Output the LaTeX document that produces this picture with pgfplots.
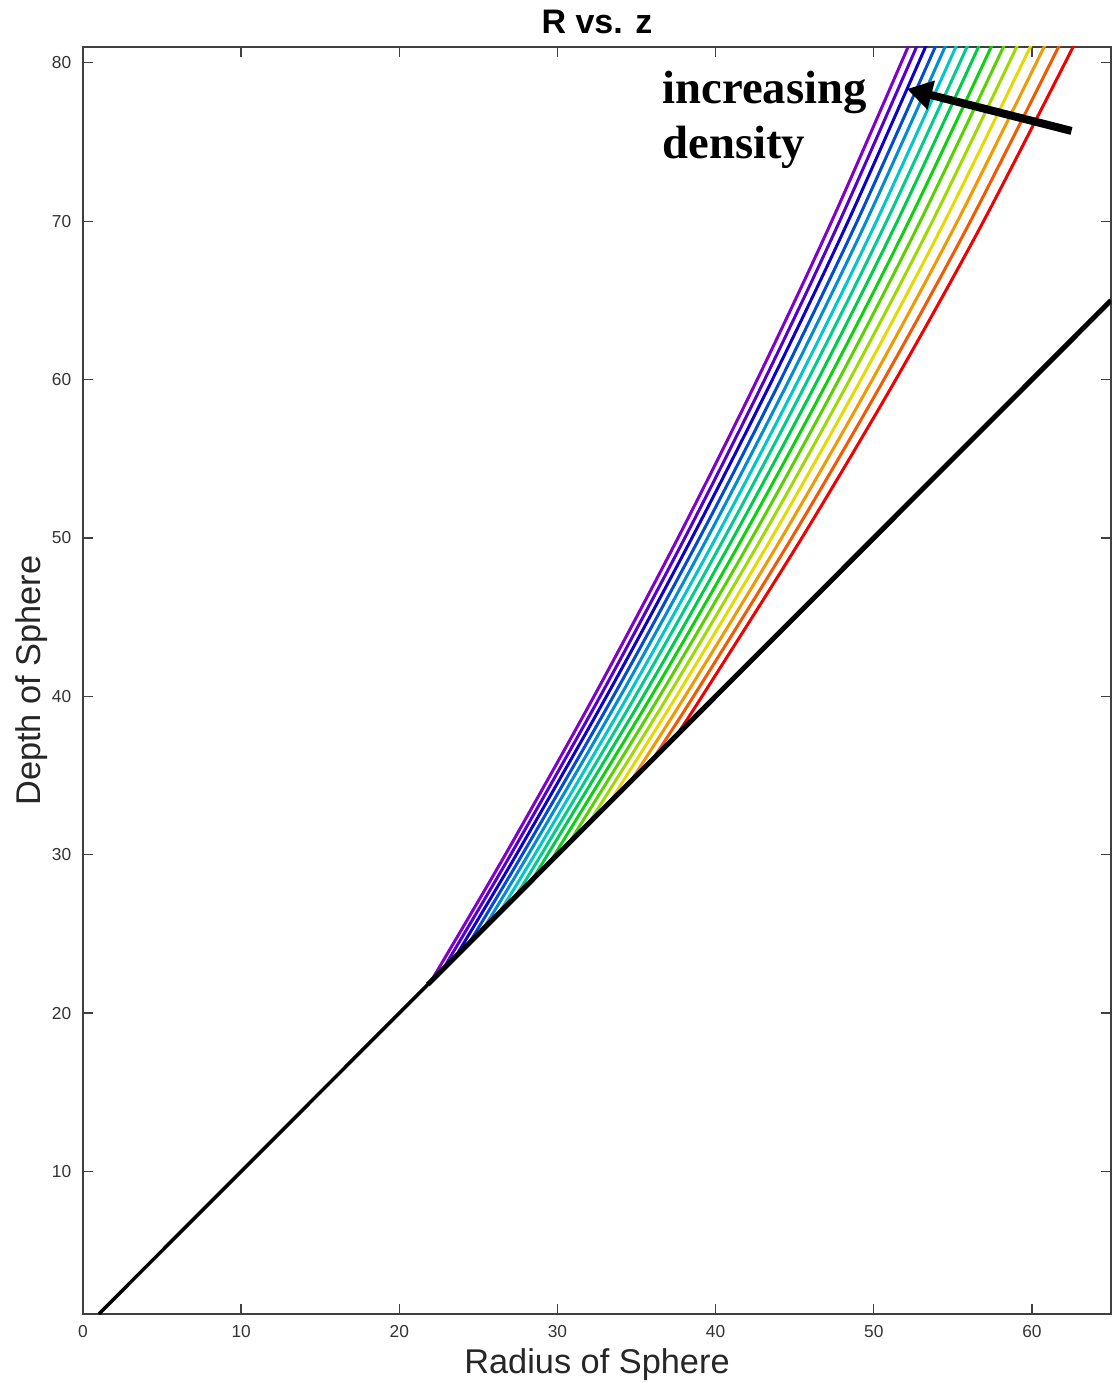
\documentclass[border=0pt]{standalone}
\usepackage{pgfplots}
\pgfplotsset{compat=1.18}
\usetikzlibrary{arrows.meta}
\usepackage{fontspec}
\setmainfont{Liberation Sans}
\newfontfamily\annfont{Liberation Serif}
\definecolor{c0}{rgb}{0.50,0.00,0.80}
\definecolor{c1}{rgb}{0.33,0.00,0.82}
\definecolor{c2}{rgb}{0.05,0.00,0.80}
\definecolor{c3}{rgb}{0.00,0.30,0.85}
\definecolor{c4}{rgb}{0.00,0.55,0.85}
\definecolor{c5}{rgb}{0.00,0.78,0.80}
\definecolor{c6}{rgb}{0.00,0.80,0.55}
\definecolor{c7}{rgb}{0.00,0.80,0.30}
\definecolor{c8}{rgb}{0.05,0.82,0.05}
\definecolor{c9}{rgb}{0.35,0.82,0.00}
\definecolor{c10}{rgb}{0.62,0.85,0.00}
\definecolor{c11}{rgb}{0.90,0.85,0.00}
\definecolor{c12}{rgb}{0.95,0.60,0.00}
\definecolor{c13}{rgb}{0.95,0.35,0.00}
\definecolor{c14}{rgb}{0.95,0.00,0.00}
\begin{document}
\begin{tikzpicture}
\begin{axis}[
  scale only axis, width=308.4pt, height=380.1pt,
  xmin=0, xmax=65, ymin=1, ymax=81,
  xtick={0,10,...,60}, ytick={10,20,...,80},
  tick align=inside, major tick length=3pt,
  axis line style={draw=black!75, line width=0.4pt},
  every tick/.style={black!75, line width=0.4pt},
  ticklabel style={font=\fontsize{5.2}{6}\selectfont, text=black!80},
  /pgf/number format/assume math mode=true,
  xlabel={Radius of Sphere}, ylabel={Depth of Sphere},
  every axis x label/.style={at={(axis description cs:0.5,0)}, yshift=-15.3pt, anchor=center, inner sep=0pt, font=\fontsize{10.3}{12}\selectfont, text=black!85},
  every axis y label/.style={at={(axis description cs:0,0.5)}, xshift=-15.3pt, anchor=center, rotate=90, inner sep=0pt, font=\fontsize{10.3}{12}\selectfont, text=black!85},
  title={R vs. z},
  every axis title/.style={font=\bfseries\fontsize{10.2}{12}\selectfont, at={(axis description cs:0.5,1)}, yshift=7.5pt, anchor=center, inner sep=0pt},
  clip=true, clip bounding box=upper bound,
  every axis plot/.append style={line width=0.9pt, smooth, tension=0.5},
]
\addplot[c0] coordinates {(22.00,22) (26.70,30) (32.31,40) (37.62,50) (42.63,60) (47.34,70) (52.60,82)};
\addplot[c1] coordinates {(22.75,22.75) (27.04,30) (32.70,40) (38.05,50) (43.10,60) (47.84,70) (53.14,82)};
\addplot[c2] coordinates {(23.55,23.55) (27.40,30) (33.10,40) (38.50,50) (43.59,60) (48.38,70) (53.71,82)};
\addplot[c3] coordinates {(24.41,24.41) (27.77,30) (33.53,40) (38.98,50) (44.12,60) (48.95,70) (54.33,82)};
\addplot[c4] coordinates {(25.32,25.32) (28.15,30) (33.97,40) (39.48,50) (44.66,60) (49.53,70) (54.95,82)};
\addplot[c5] coordinates {(26.29,26.29) (28.56,30) (34.44,40) (40.01,50) (45.25,60) (50.17,70) (55.64,82)};
\addplot[c6] coordinates {(27.31,27.31) (28.97,30) (34.92,40) (40.55,50) (45.84,60) (50.81,70) (56.35,82)};
\addplot[c7] coordinates {(28.39,28.39) (35.42,40) (41.11,50) (46.47,60) (51.49,70) (57.08,82)};
\addplot[c8] coordinates {(29.53,29.53) (35.93,40) (41.70,50) (47.13,60) (52.22,70) (57.89,82)};
\addplot[c9] coordinates {(30.72,30.72) (36.45,40) (42.30,50) (47.79,60) (52.94,70) (58.67,82)};
\addplot[c10] coordinates {(31.96,31.96) (36.98,40) (42.91,50) (48.48,60) (53.71,70) (59.51,82)};
\addplot[c11] coordinates {(33.27,33.27) (37.52,40) (43.54,50) (49.19,60) (54.49,70) (60.38,82)};
\addplot[c12] coordinates {(34.62,34.62) (38.06,40) (44.17,50) (49.91,60) (55.29,70) (61.26,82)};
\addplot[c13] coordinates {(36.03,36.03) (38.60,40) (44.81,50) (50.64,60) (56.11,70) (62.18,82)};
\addplot[c14] coordinates {(37.50,37.50) (39.14,40) (45.45,50) (51.39,60) (56.94,70) (63.11,82)};
\addplot[black, line width=1.05pt, sharp plot] coordinates {(1,1) (22,22)};
\addplot[black, line width=1.5pt, sharp plot] coordinates {(21.8,21.8) (65,65)};
\draw[line width=2.4pt, -{Triangle[length=7.5pt,width=8.5pt]}] (axis cs:62.5,75.7) -- (axis cs:52.1,78.35);
\node[anchor=north west, align=left, inner sep=0pt, font=\annfont\bfseries\fontsize{14}{16.5}\selectfont] at (axis cs:36.6,79.55) {increasing\\density};
\end{axis}
\path ([shift={(-24.9pt,-20.7pt)}]current axis.south west) ([shift={(1.2pt,14.1pt)}]current axis.north east);
\end{tikzpicture}
\end{document}
